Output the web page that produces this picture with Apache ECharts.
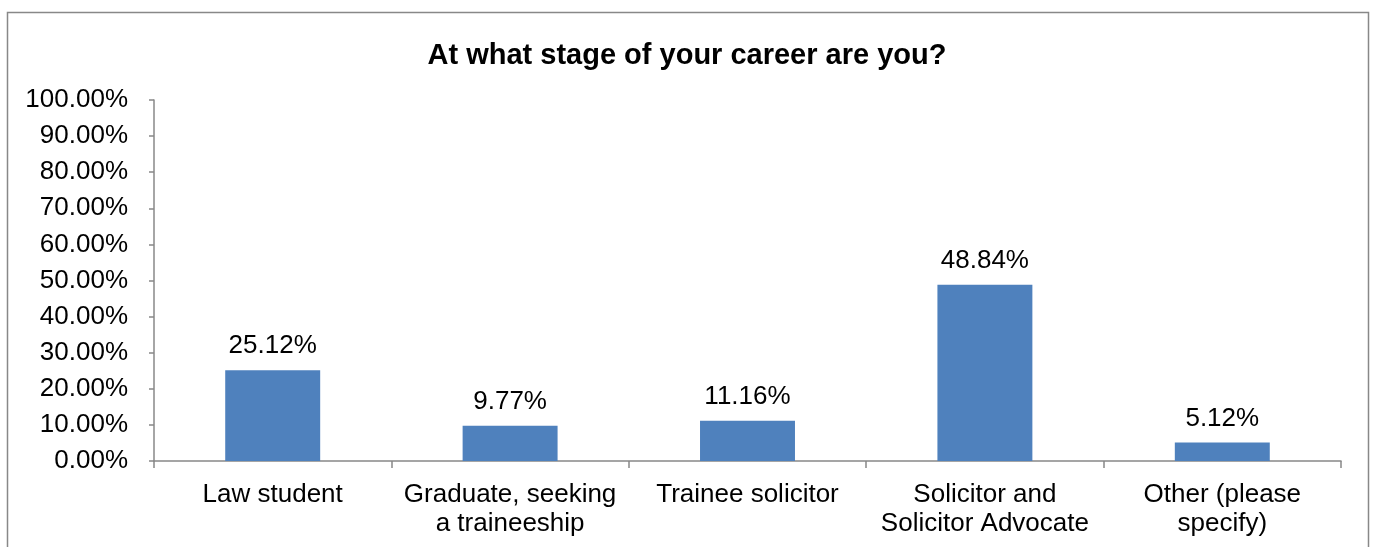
<!DOCTYPE html>
<html><head><meta charset="utf-8">
<script src="https://cdn.jsdelivr.net/npm/echarts@6/dist/echarts.min.js"></script>
<style>html,body{margin:0;padding:0;background:#fff}#c{width:1374px;height:547px}</style>
</head><body><div id="c"></div>
<script>
const categories = ['Law student', 'Graduate, seeking\na traineeship', 'Trainee solicitor', 'Solicitor and\nSolicitor Advocate', 'Other (please\nspecify)'];
const values = [25.12, 9.77, 11.16, 48.84, 5.12];
const titleText = 'At what stage of your career are you?';

const FF = 'Liberation Sans, Arial, sans-serif';
const chart = echarts.init(document.getElementById('c'), null, {renderer: 'canvas'});
chart.setOption({
  animation: false,
  textStyle: {fontFamily: FF},
  title: {
    text: titleText, left: 'center', top: 36,
    textStyle: {fontFamily: FF, fontWeight: 'bold', fontSize: 29, color: '#000'}
  },
  graphic: [{
    type: 'rect', shape: {x: 7.5, y: 12.5, width: 1361, height: 600},
    style: {fill: 'none', stroke: '#888', lineWidth: 1.5}, silent: true
  }],
  grid: {left: 154, right: 33, top: 100, bottom: 86, containLabel: false},
  xAxis: {
    type: 'category', data: categories,
    axisLine: {lineStyle: {color: '#888', width: 1.5}},
    axisTick: {show: true, length: 7, alignWithLabel: false, lineStyle: {color: '#888', width: 1.5}},
    axisLabel: {fontSize: 26, color: '#000', margin: 19, lineHeight: 29, interval: 0, fontFamily: FF}
  },
  yAxis: {
    type: 'value', min: 0, max: 100, interval: 10,
    axisLine: {show: true, lineStyle: {color: '#888', width: 1.5}},
    axisTick: {show: true, length: 5, lineStyle: {color: '#888', width: 1.5}},
    splitLine: {show: false},
    axisLabel: {fontSize: 26, color: '#000', margin: 26, formatter: v => v.toFixed(2) + '%', fontFamily: FF}
  },
  series: [{
    type: 'bar', data: values, barWidth: '40%',
    itemStyle: {color: '#4f81bd'},
    label: {show: true, position: 'top', distance: 11, fontSize: 26, color: '#000',
      formatter: p => p.value.toFixed(2) + '%', fontFamily: FF}
  }]
});
</script></body></html>
